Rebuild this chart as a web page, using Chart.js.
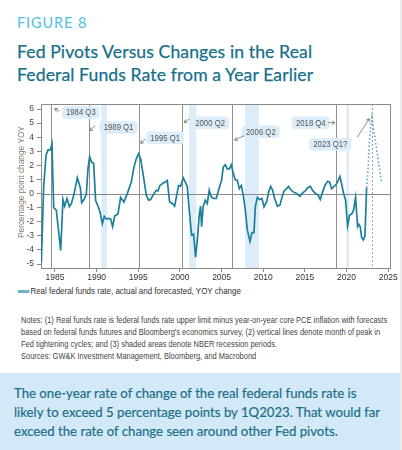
<!DOCTYPE html>
<html>
<head>
<meta charset="utf-8">
<script src="https://cdn.jsdelivr.net/npm/chart.js@4/dist/chart.umd.min.js"></script>
<style>
  html, body { margin: 0; padding: 0; background: #fff; }
  body { width: 402px; height: 450px; position: relative; overflow: hidden; }
  .edge { position: absolute; left: 400px; top: 0; width: 2px; height: 450px; background: #ececec; }
  .fig { position: absolute; left: 17px; top: 14px; font-family: Lato, "Open Sans", sans-serif; font-size: 14.5px; letter-spacing: 0.9px; color: #4fc1e6; }
  .title { position: absolute; left: 17px; top: 40px; font-family: Lato, "Open Sans", sans-serif; font-size: 17.6px; line-height: 23px; color: #17708a; letter-spacing: 0.1px; -webkit-text-stroke: 0.25px #17708a; }
  #wrap { position: absolute; left: 0; top: 96px; width: 400px; height: 188px; }
  .legend { position: absolute; left: 18px; top: 286px; font-family: "Liberation Sans", Arial, sans-serif; font-size: 9px; color: #333; white-space: nowrap; transform: scaleX(0.885); transform-origin: 0 0; }
  .legend .sw { display: inline-block; width: 13px; height: 2.5px; background: #6db3cd; vertical-align: middle; margin-right: 1px; }
  .notes { position: absolute; left: 21px; top: 313.5px; font-family: "Liberation Sans", Arial, sans-serif; font-size: 8.8px; line-height: 12.2px; color: #444; white-space: nowrap; transform: scaleX(0.85); transform-origin: 0 0; }
  .box { position: absolute; left: 0; top: 373px; width: 400px; height: 77px; background: #d3e9f7; }
  .box p { margin: 0; position: absolute; left: 14px; top: 11px; font-family: Lato, "Open Sans", sans-serif; font-size: 13.2px; line-height: 19px; color: #1b6f88; white-space: nowrap; -webkit-text-stroke: 0.2px #1b6f88; }
</style>
</head>
<body>
<div class="edge"></div>
<div class="fig">FIGURE 8</div>
<div class="title">Fed Pivots Versus Changes in the Real<br>Federal Funds Rate from a Year Earlier</div>
<div id="wrap"><canvas id="c" width="400" height="188"></canvas></div>
<div class="legend"><span class="sw"></span>Real federal funds rate, actual and forecasted, YOY change</div>
<div class="notes">Notes: (1) Real funds rate is federal funds rate upper limit minus year-on-year core PCE inflation with forecasts<br>based on federal funds futures and Bloomberg's economics survey, (2) vertical lines denote month of peak in<br>Fed tightening cycles; and (3) shaded areas denote NBER recession periods.<br>Sources: GW&amp;K Investment Management, Bloomberg, and Macrobond</div>
<div class="box"><p>The one-year rate of change of the real federal funds rate is<br>likely to exceed 5 percentage points by 1Q2023. That would far<br>exceed the rate of change seen around other Fed pivots.</p></div>
<script>
// ---- data ----
const actualYears = [1983.36,1983.64,1983.92,1984.16,1984.44,1984.64,1984.84,1985.16,1985.68,1985.96,1986.16,1986.44,1986.72,1986.96,1987.3,1987.68,1988.04,1988.2,1988.48,1988.76,1988.96,1989.16,1989.4,1989.64,1989.88,1990.24,1990.44,1990.68,1990.92,1991.16,1991.44,1991.68,1991.92,1992.16,1992.56,1992.88,1993.28,1993.68,1994.16,1994.48,1994.76,1995.04,1995.28,1995.6,1995.96,1996.24,1996.48,1996.88,1997.16,1997.36,1997.6,1998.0,1998.24,1998.48,1998.76,1999.08,1999.36,1999.84,2000.08,2000.4,2000.64,2000.88,2001.12,2001.4,2001.64,2001.88,2002.12,2002.32,2002.48,2002.6,2002.8,2003.04,2003.28,2003.52,2003.76,2004.08,2004.36,2004.8,2005.0,2005.2,2005.45,2005.69,2005.93,2006.17,2006.41,2006.65,2006.89,2007.13,2007.37,2007.61,2007.85,2008.09,2008.41,2008.65,2008.89,2009.05,2009.29,2009.61,2009.85,2010.09,2010.41,2010.65,2010.89,2011.13,2011.37,2011.69,2012.01,2012.25,2012.49,2012.81,2013.05,2013.29,2013.61,2014.01,2014.41,2014.73,2015.05,2015.33,2015.65,2015.97,2016.29,2016.61,2016.85,2017.09,2017.41,2017.73,2017.97,2018.21,2018.45,2018.77,2019.01,2019.21,2019.41,2019.65,2019.89,2020.13,2020.37,2020.61,2020.85,2021.09,2021.33,2021.49,2021.65,2021.81,2022.01,2022.21,2022.41];
const actualValues = [-4.93,0.47,2.7,3.1,3.1,3.52,-0.99,-1.18,-4.04,-0.42,-0.89,-0.35,-0.92,-0.73,0.0,1.12,0.42,-0.64,-0.42,-0.05,1.76,2.63,2.22,2.15,-0.49,-1.0,-1.4,-2.14,-1.62,-1.8,-1.76,-1.8,-2.35,-1.6,-1.45,-0.27,-0.59,0.0,0.82,1.88,2.47,2.82,2.47,1.3,-0.12,-0.47,-0.42,0.0,0.24,0.19,0.58,0.75,0.82,0.94,-0.59,-0.7,-0.89,0.58,0.51,1.12,0.82,0.51,-1.18,-2.94,-2.87,-4.51,-3.05,-1.53,-0.89,-2.35,-0.89,-0.47,-0.7,0.24,-0.24,-0.35,-0.35,0.58,0.94,1.88,2.05,1.76,1.76,2.05,1.4,0.98,0.94,0.35,0.58,-0.12,-1.18,-2.58,-3.4,-2.77,-2.77,-0.94,-0.28,-0.42,-0.35,-0.94,-0.59,0.12,0.51,0.24,-0.35,-0.89,-0.82,-0.28,0.19,0.35,0.51,0.28,0.12,0.0,-0.19,0.05,0.19,0.42,0.51,0.19,0.0,-0.12,-0.42,0.05,0.58,0.87,0.82,0.35,0.47,0.66,0.94,1.22,0.7,0.0,-0.47,-2.3,-1.53,-1.45,-1.18,-0.28,-2.35,-2.19,-2.35,-3.1,-3.29,-3.05,0.42];
const forecastYears = [2022.41,2022.6,2022.73,2022.9,2023.05,2024.2];
const forecastValues = [0.42,1.88,3.52,4.69,5.4,0.8];
const peakYears = [1984.56,1989.05,1995.05,2000.28,2006.28,2018.73];
const forecastPeakYear = 2023.0;
const recessions = [[1990.56,1991.24],[2001.09,2001.96],[2007.8,2009.5],[2020.0,2020.3]];
const xTickLabels = [1985,1990,1995,2000,2005,2010,2015,2020,2025];
const yTickLabels = [-5,-4,-3,-2,-1,0,1,2,3,4,5,6];
const peakLabels = ["1984 Q3","1989 Q1","1995 Q1","2000 Q2","2006 Q2","2018 Q4","2023 Q1?"];

// ---- annotation layout (data coords: label box left year / centre value; arrow tail/head) ----
const annLayout = [
  {box:[1985.84,5.76], tail:[1985.55,5.85], head:[1984.95,6.02]},
  {box:[1990.37,4.69], tail:[1989.84,4.81], head:[1989.17,4.46]},
  {box:[1995.96,3.97], tail:[1995.84,3.87], head:[1995.29,3.56]},
  {box:[2001.36,5.02], tail:[2001.17,5.3],  head:[2000.49,5.05]},
  {box:[2007.45,4.38], tail:[2007.69,4.1],  head:[2006.57,3.8]},
  {box:[2013.45,5.03], tail:[2017.77,5.03], head:[2018.62,5.03]},
  {box:[2015.53,3.5],  tail:[2021.29,3.99], head:[2022.73,5.32]}
];

const fontNarrow = '"Liberation Sans", Arial, sans-serif';
const SQ = 0.86;

const decor = {
  id: 'decor',
  beforeDatasetsDraw(chart) {
    const {ctx, chartArea: a, scales: {x, y}} = chart;
    ctx.save();
    ctx.fillStyle = '#dcedf9';
    recessions.forEach(([s, e]) => {
      const x0 = x.getPixelForValue(s), x1 = x.getPixelForValue(e);
      ctx.fillRect(x0, a.top, x1 - x0, a.bottom - a.top);
    });
    ctx.strokeStyle = '#8a8a8a';
    ctx.lineWidth = 1;
    const zy = Math.round(y.getPixelForValue(0)) + 0.5;
    ctx.beginPath(); ctx.moveTo(a.left, zy); ctx.lineTo(a.right, zy); ctx.stroke();
    ctx.strokeStyle = '#909090';
    peakYears.forEach(v => {
      const px = Math.round(x.getPixelForValue(v)) + 0.5;
      ctx.beginPath(); ctx.moveTo(px, a.top); ctx.lineTo(px, a.bottom); ctx.stroke();
    });
    ctx.setLineDash([2, 2]);
    ctx.strokeStyle = '#a0a0a0';
    const fx = Math.round(x.getPixelForValue(forecastPeakYear)) + 0.5;
    ctx.beginPath(); ctx.moveTo(fx, a.top); ctx.lineTo(fx, a.bottom); ctx.stroke();
    ctx.setLineDash([]);
    ctx.strokeStyle = '#8a8a8a';
    ctx.strokeRect(Math.round(a.left) + 0.5, Math.round(a.top) + 0.5, Math.round(a.right - a.left), Math.round(a.bottom - a.top));
    ctx.restore();
  },
  afterDatasetsDraw(chart) {
    const {ctx, scales: {x, y}} = chart;
    ctx.save();
    ctx.font = '9px ' + fontNarrow;
    ctx.textBaseline = 'middle';
    annLayout.forEach((an, i) => {
      const label = peakLabels[i];
      const bx = x.getPixelForValue(an.box[0]);
      const by = y.getPixelForValue(an.box[1]);
      const tw = ctx.measureText(label).width * SQ;
      const w = tw + 8;
      const h = 12.5;
      ctx.fillStyle = '#dcedf9';
      ctx.beginPath();
      ctx.roundRect(bx, by - h / 2, w, h, 3);
      ctx.fill();
      ctx.fillStyle = '#555';
      ctx.save();
      ctx.translate(bx + 4, by + 0.5);
      ctx.scale(SQ, 1);
      ctx.fillText(label, 0, 0);
      ctx.restore();
      // arrow
      const tx = x.getPixelForValue(an.tail[0]), ty = y.getPixelForValue(an.tail[1]);
      const hx = x.getPixelForValue(an.head[0]), hy = y.getPixelForValue(an.head[1]);
      ctx.strokeStyle = '#7b8670';
      ctx.lineWidth = 0.9;
      ctx.beginPath(); ctx.moveTo(tx, ty); ctx.lineTo(hx, hy); ctx.stroke();
      const ang = Math.atan2(hy - ty, hx - tx);
      ctx.beginPath();
      ctx.moveTo(hx - 3.5 * Math.cos(ang - 0.55), hy - 3.5 * Math.sin(ang - 0.55));
      ctx.lineTo(hx, hy);
      ctx.lineTo(hx - 3.5 * Math.cos(ang + 0.55), hy - 3.5 * Math.sin(ang + 0.55));
      ctx.stroke();
    });
    // y axis title
    ctx.translate(22, (chart.chartArea.top + chart.chartArea.bottom) / 2 - 4);
    ctx.rotate(-Math.PI / 2);
    ctx.scale(0.92, 1);
    ctx.textAlign = 'center';
    ctx.fillStyle = '#86796a';
    ctx.font = '9px ' + fontNarrow;
    ctx.fillText('Percentage point change YOY', 0, 0);
    ctx.restore();
  }
};

new Chart(document.getElementById('c'), {
  type: 'line',
  data: {
    datasets: [
      {
        label: 'Real federal funds rate, actual',
        data: actualYears.map((v, i) => ({x: v, y: actualValues[i]})),
        borderColor: '#1c7f9b', borderWidth: 1.7, pointRadius: 0, tension: 0
      },
      {
        label: 'Real federal funds rate, forecasted',
        data: forecastYears.map((v, i) => ({x: v, y: forecastValues[i]})),
        borderColor: '#5aa9c9', borderWidth: 1.6, borderDash: [1.5, 2.2], pointRadius: 0, tension: 0
      }
    ]
  },
  options: {
    responsive: false, animation: false, devicePixelRatio: 1,
    layout: {padding: {top: 7, right: 10, left: 0, bottom: 0}},
    plugins: {legend: {display: false}, tooltip: {enabled: false}},
    scales: {
      x: {
        type: 'linear', min: 1983.32, max: 2025.22,
        afterBuildTicks: s => { s.ticks = xTickLabels.map(v => ({value: v})); },
        afterFit: s => { s.height = 16; },
        ticks: {callback: v => String(v), font: {size: 8.5, family: fontNarrow}, color: '#333', padding: 1, maxRotation: 0, autoSkip: false},
        grid: {drawOnChartArea: false, tickLength: 4, color: '#888'},
        border: {color: '#888'}
      },
      y: {
        min: -5.28, max: 6.35,
        afterBuildTicks: s => { s.ticks = yTickLabels.map(v => ({value: v})); },
        afterFit: s => { s.width = 41; },
        ticks: {font: {size: 8.5, family: fontNarrow}, color: '#444', padding: 3, autoSkip: false},
        grid: {drawOnChartArea: false, tickLength: 4, color: '#888'},
        border: {color: '#888'}
      }
    }
  },
  plugins: [decor]
});
</script>
</body>
</html>
